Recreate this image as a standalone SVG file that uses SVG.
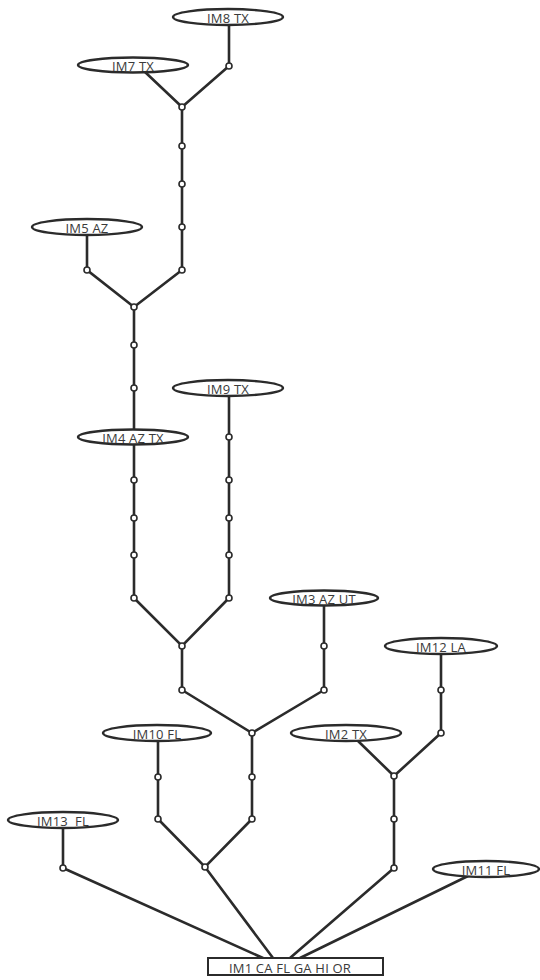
<svg xmlns="http://www.w3.org/2000/svg" width="540" height="980" viewBox="0 0 540 980">
<style>
.e{fill:#fff;stroke:#2b2b2b;stroke-width:2.4}
.r{fill:#fff;stroke:#2b2b2b;stroke-width:2}
.t{font-family:"Open Sans","Liberation Sans",sans-serif;font-size:13px;letter-spacing:0.2px;fill:#3a3a3a;text-anchor:middle;white-space:pre}
.c line,.c polyline{stroke:#2b2b2b;stroke-width:2.6;fill:none;stroke-linecap:round}
.j circle{fill:#fff;stroke:#2b2b2b;stroke-width:1.6}
</style>
<rect width="540" height="980" fill="#fff"/>
<g id="connectors" class="c">
<line x1="229" y1="24" x2="229" y2="66"/>
<line x1="229" y1="66" x2="182" y2="107"/>
<line x1="145" y1="72" x2="182" y2="107"/>
<line x1="182" y1="107" x2="182" y2="270"/>
<line x1="182" y1="270" x2="134" y2="307"/>
<polyline points="87,234 87,270 134,307"/>
<line x1="134" y1="307" x2="134" y2="430"/>
<line x1="134" y1="444" x2="134" y2="598"/>
<line x1="229" y1="395" x2="229" y2="598"/>
<polyline points="134,598 182,646 229,598"/>
<line x1="182" y1="646" x2="182" y2="690"/>
<line x1="324" y1="605" x2="324" y2="690"/>
<polyline points="182,690 252,733 324,690"/>
<line x1="252" y1="733" x2="252" y2="819"/>
<line x1="158" y1="740" x2="158" y2="819"/>
<polyline points="158,819 205,867 252,819"/>
<line x1="63" y1="827" x2="63" y2="868"/>
<line x1="63" y1="868" x2="263" y2="958"/>
<line x1="205" y1="867" x2="273" y2="958"/>
<line x1="441" y1="653" x2="441" y2="733"/>
<line x1="357" y1="740" x2="394" y2="776"/>
<line x1="441" y1="733" x2="394" y2="776"/>
<line x1="394" y1="776" x2="394" y2="868"/>
<line x1="394" y1="868" x2="290" y2="958"/>
<line x1="468" y1="876" x2="300" y2="958"/>
</g>
<g id="junctions" class="j">
<circle cx="229" cy="66" r="3"/>
<circle cx="182" cy="107" r="3"/>
<circle cx="182" cy="146" r="3"/>
<circle cx="182" cy="184" r="3"/>
<circle cx="182" cy="227" r="3"/>
<circle cx="182" cy="270" r="3"/>
<circle cx="87" cy="270" r="3"/>
<circle cx="134" cy="307" r="3"/>
<circle cx="134" cy="345" r="3"/>
<circle cx="134" cy="388" r="3"/>
<circle cx="134" cy="480" r="3"/>
<circle cx="134" cy="518" r="3"/>
<circle cx="134" cy="555" r="3"/>
<circle cx="134" cy="598" r="3"/>
<circle cx="229" cy="437" r="3"/>
<circle cx="229" cy="480" r="3"/>
<circle cx="229" cy="518" r="3"/>
<circle cx="229" cy="555" r="3"/>
<circle cx="229" cy="598" r="3"/>
<circle cx="182" cy="646" r="3"/>
<circle cx="182" cy="690" r="3"/>
<circle cx="324" cy="646" r="3"/>
<circle cx="324" cy="690" r="3"/>
<circle cx="252" cy="733" r="3"/>
<circle cx="252" cy="777" r="3"/>
<circle cx="252" cy="819" r="3"/>
<circle cx="158" cy="777" r="3"/>
<circle cx="158" cy="819" r="3"/>
<circle cx="205" cy="867" r="3"/>
<circle cx="63" cy="868" r="3"/>
<circle cx="441" cy="690" r="3"/>
<circle cx="441" cy="733" r="3"/>
<circle cx="394" cy="776" r="3"/>
<circle cx="394" cy="819" r="3"/>
<circle cx="394" cy="868" r="3"/>
</g>
<g id="IM8"><ellipse class="e" cx="228" cy="17" rx="55" ry="8"/><text class="t" x="228" y="22.5">IM8 TX</text></g>
<g id="IM7"><ellipse class="e" cx="133" cy="65" rx="55" ry="7.5"/><text class="t" x="133" y="70.5">IM7 TX</text></g>
<g id="IM5"><ellipse class="e" cx="87" cy="227" rx="55" ry="8"/><text class="t" x="87" y="232.5">IM5 AZ</text></g>
<g id="IM9"><ellipse class="e" cx="228" cy="388" rx="55" ry="8"/><text class="t" x="228" y="393.5">IM9 TX</text></g>
<g id="IM4"><ellipse class="e" cx="133" cy="437" rx="55" ry="7.5"/><text class="t" x="133" y="442.5">IM4 AZ TX</text></g>
<g id="IM3"><ellipse class="e" cx="324" cy="598" rx="54" ry="7.5"/><text class="t" x="324" y="603.5">IM3 AZ UT</text></g>
<g id="IM12"><ellipse class="e" cx="441" cy="646" rx="56" ry="8"/><text class="t" x="441" y="651.5">IM12 LA</text></g>
<g id="IM10"><ellipse class="e" cx="157" cy="733" rx="54" ry="8"/><text class="t" x="157" y="738.5">IM10 FL</text></g>
<g id="IM2"><ellipse class="e" cx="346" cy="733" rx="55" ry="8"/><text class="t" x="346" y="738.5">IM2 TX</text></g>
<g id="IM13"><ellipse class="e" cx="63" cy="820" rx="55" ry="8"/><text class="t" x="63" y="825.5">IM13  FL</text></g>
<g id="IM11"><ellipse class="e" cx="486" cy="869" rx="53" ry="8"/><text class="t" x="486" y="874.5">IM11 FL</text></g>
<g id="IM1"><rect class="r" x="208" y="958" width="175" height="17"/><text class="t" x="290" y="972.5">IM1 CA FL GA HI OR</text></g>
</svg>
